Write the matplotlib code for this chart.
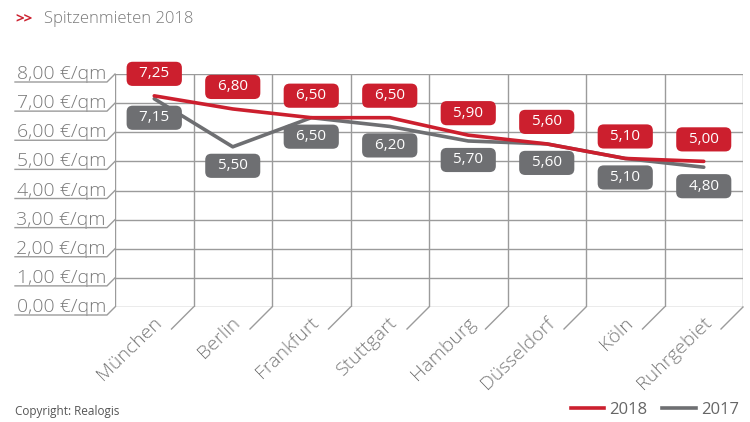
import matplotlib.pyplot as plt
from matplotlib.lines import Line2D

# data
cities = ["München", "Berlin", "Frankfurt", "Stuttgart", "Hamburg", "Düsseldorf", "Köln", "Ruhrgebiet"]
rent_2018 = [7.25, 6.80, 6.50, 6.50, 5.90, 5.60, 5.10, 5.00]
rent_2017 = [7.15, 5.50, 6.50, 6.20, 5.70, 5.60, 5.10, 4.80]
y_ticks = [0, 1, 2, 3, 4, 5, 6, 7, 8]

RED = "#cc1f2e"
GRAY = "#6e6f72"
GRID = "#9b9b9b"
TXT = "#7a7a7a"

plt.rcParams['font.family'] = ['Open Sans', 'DejaVu Sans']

fig = plt.figure(figsize=(7.5, 4.22), dpi=100)
ax = fig.add_axes([115 / 750, 1 - 307 / 422, 628 / 750, 233 / 422])
ax.set_xlim(-0.5, len(cities) - 0.5)
ax.set_ylim(0, 8)
for s in ax.spines.values():
    s.set_visible(False)
ax.set_xticks([])
ax.set_yticks([])

# grid
for v in y_ticks:
    ax.axhline(v, color=GRID, lw=1, zorder=1)
for i in range(len(cities) + 1):
    ax.axvline(i - 0.5, color=GRID, lw=1, zorder=1)

x = list(range(len(cities)))
ax.plot(x, rent_2017, color=GRAY, lw=2.6, solid_joinstyle='round', solid_capstyle='round', zorder=3)
ax.plot(x, rent_2018, color=RED, lw=2.6, solid_joinstyle='round', solid_capstyle='round', zorder=4)

def fmt(v):
    return f"{v:.2f}".replace(".", ",")

for i, (a, b) in enumerate(zip(rent_2018, rent_2017)):
    ax.annotate("  " + fmt(a) + "  ", (i, a), xytext=(0, 22), textcoords='offset pixels',
                ha='center', va='center', color='white', fontsize=11, zorder=5,
                bbox=dict(boxstyle='round,pad=0.3,rounding_size=0.4', fc=RED, ec='none'))
    ax.annotate("  " + fmt(b) + "  ", (i, b), xytext=(0, -19), textcoords='offset pixels',
                ha='center', va='center', color='white', fontsize=11, zorder=5,
                bbox=dict(boxstyle='round,pad=0.3,rounding_size=0.4', fc=GRAY, ec='none'))

# y axis labels with kinked leader lines
fig.canvas.draw()
for v in y_ticks:
    px, py = ax.transData.transform((-0.5, v))
    fig.add_artist(Line2D([px, px - 8, px - 100], [py, py - 8, py - 8], color=GRID, lw=1,
                          transform=None, clip_on=False))
    ax.annotate(fmt(v) + " €/qm", (-0.5, v), xytext=(-9, -5), textcoords='offset pixels',
                ha='right', va='baseline', fontsize=14, fontweight='light', color=TXT,
                annotation_clip=False)

# x axis labels with slanted lines
for i, c in enumerate(cities):
    px, py = ax.transData.transform((i + 0.5, 0))
    fig.add_artist(Line2D([px, px - 22], [py, py - 22], color=GRID, lw=1,
                          transform=None, clip_on=False))
    ax.annotate(c, (i, 0), xytext=(5, -13), textcoords='offset pixels', rotation=44,
                rotation_mode='anchor', ha='right', va='center', fontsize=14,
                fontweight='light', color=TXT, annotation_clip=False)

# title
fig.text(15 / 750, 1 - 19 / 422, ">>", color=RED, fontsize=11, fontweight='bold', va='center')
fig.text(44 / 750, 1 - 19 / 422, "Spitzenmieten 2018", color=TXT, fontsize=12,
         fontweight='light', va='center')

# footer
fig.text(15 / 750, 1 - 411 / 422, "Copyright: Realogis", color="#555555", fontsize=8.5, va='center')
handles = [Line2D([], [], color=RED, lw=2.6), Line2D([], [], color=GRAY, lw=2.6)]
fig.legend(handles, ["2018", "2017"], loc='center right', bbox_to_anchor=(1.005, 1 - 410 / 422),
           ncol=2, frameon=False, fontsize=12, handlelength=2.0, handletextpad=0.3,
           columnspacing=0.9, labelcolor="#666666")

fig.savefig("out.png", dpi=100)
